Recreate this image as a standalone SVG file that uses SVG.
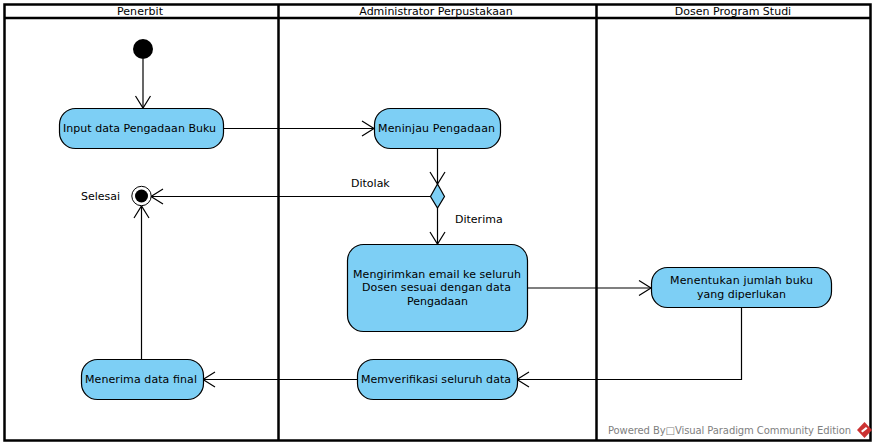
<svg xmlns="http://www.w3.org/2000/svg" width="876" height="447" viewBox="0 0 876 447">
<style>
text{font-family:"DejaVu Sans",sans-serif;font-size:11px;fill:#000}
.m{text-anchor:middle}
.lane{fill:#fff;stroke:#000;stroke-width:2.5}
.n{fill:#7dcff5;stroke:#000;stroke-width:1.2}
.c{fill:none;stroke:#000;stroke-width:1.2}
</style>
<defs>
<marker id="a" markerUnits="userSpaceOnUse" markerWidth="14" markerHeight="22" refX="12.5" refY="11" orient="auto" overflow="visible"><path d="M0.5 3.5L12.5 11L0.5 18.500" fill="none" stroke="#000" stroke-width="1.200"/></marker>
</defs>
<g id="swimlanes">
<rect class="lane" x="4.500" y="4.500" width="866" height="436"/>
<path class="lane" d="M4.500 18H870.500M278.500 4.500V440.500M596.500 4.500V440.500"/>
<text x="117" y="15" textLength="46">Penerbit</text>
<text class="m" x="436" y="15">Administrator Perpustakaan</text>
<text class="m" x="733" y="15">Dosen Program Studi</text>
</g>
<g id="connectors">
<path class="c" d="M143 59V108" marker-end="url(#a)"/>
<path class="c" d="M223 128.500H374" marker-end="url(#a)"/>
<path class="c" d="M437.500 149V184" marker-end="url(#a)"/>
<path class="c" d="M430 196.500H151" marker-end="url(#a)"/>
<path class="c" d="M437.500 208V244" marker-end="url(#a)"/>
<path class="c" d="M527 288H651" marker-end="url(#a)"/>
<path class="c" d="M741.500 307V379.500H517" marker-end="url(#a)"/>
<path class="c" d="M357 379.500H203" marker-end="url(#a)"/>
<path class="c" d="M141.500 359V206" marker-end="url(#a)"/>
<text x="351" y="187">Ditolak</text>
<text x="455" y="223">Diterima</text>
</g>
<g id="start"><circle cx="143" cy="49" r="10" fill="#000"/></g>
<g id="input"><rect class="n" x="59.500" y="108.500" width="164" height="40" rx="16"/><text x="63" y="132" textLength="153">Input data Pengadaan Buku</text></g>
<g id="end"><circle cx="141.500" cy="196" r="9.700" fill="#fff" stroke="#000" stroke-width="1"/><circle cx="141.500" cy="196" r="6.500" fill="#000"/><text x="81" y="200">Selesai</text></g>
<g id="tinjau"><rect class="n" x="374.500" y="108.500" width="126" height="40" rx="16"/><text x="378" y="132" textLength="117">Meninjau Pengadaan</text></g>
<g id="decision"><polygon class="n" points="437.500,184 444.500,196.500 437.500,208 430.500,196.500"/></g>
<g id="email"><rect class="n" x="347.500" y="244.500" width="180" height="87" rx="16"/><text x="353" y="278" textLength="168">Mengirimkan email ke seluruh</text><text x="362" y="291" textLength="149">Dosen sesuai dengan data</text><text x="407" y="305" textLength="61">Pengadaan</text></g>
<g id="jumlah"><rect class="n" x="651.500" y="267.500" width="180" height="40" rx="16"/><text x="670" y="284" textLength="143">Menentukan jumlah buku</text><text x="697" y="298" textLength="89">yang diperlukan</text></g>
<g id="verifikasi"><rect class="n" x="357.500" y="359.500" width="160" height="40" rx="16"/><text x="361" y="383" textLength="150">Memverifikasi seluruh data</text></g>
<g id="final"><rect class="n" x="81.500" y="359.500" width="122" height="40" rx="16"/><text x="85" y="383" textLength="112">Menerima data final</text></g>
<g id="footer"><text x="608" y="434" textLength="243" style="fill:#7f7f7f;font-size:10px">Powered By□Visual Paradigm Community Edition</text>
<path d="M864.500 422L872 430L864.500 438L857 430Z" fill="#cc3333"/><path d="M861 431L866 427L867.500 428.500L862.500 432.500Z" fill="#fff"/></g>
</svg>
